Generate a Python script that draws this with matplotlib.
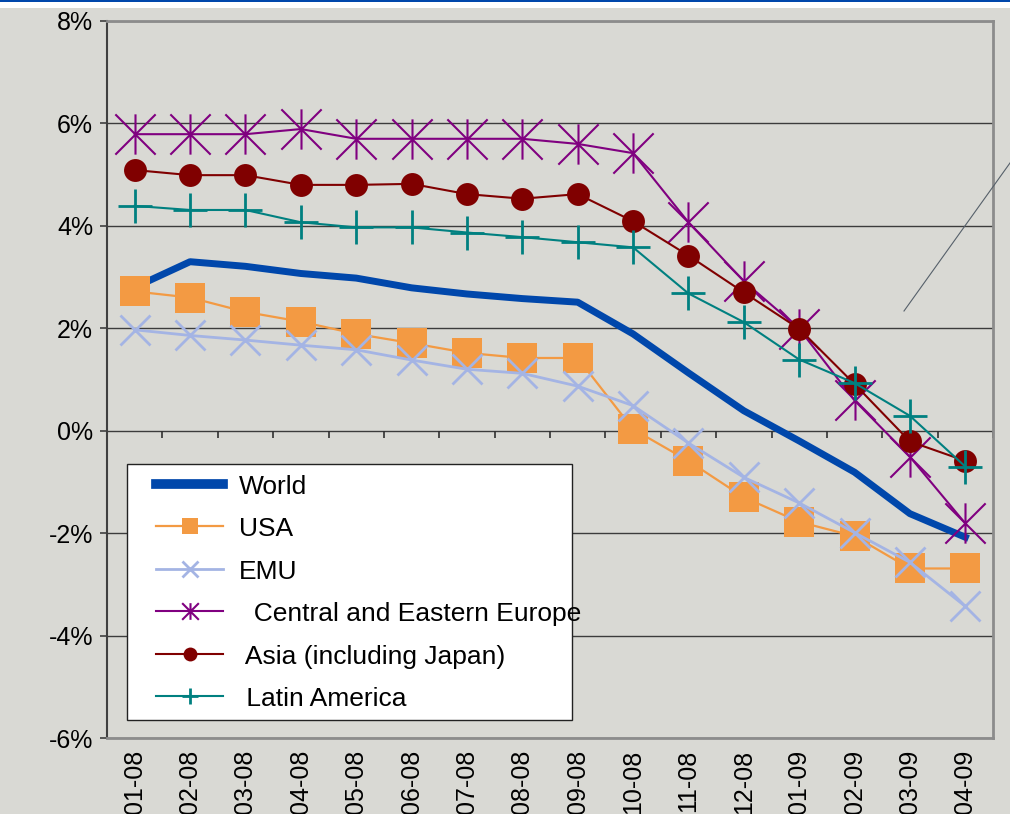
import numpy as np
import matplotlib
matplotlib.use("Agg")
import matplotlib.pyplot as plt
from matplotlib.path import Path
from matplotlib.patches import Rectangle
from matplotlib.lines import Line2D

months = ["01-08", "02-08", "03-08", "04-08", "05-08", "06-08", "07-08", "08-08",
          "09-08", "10-08", "11-08", "12-08", "01-09", "02-09", "03-09", "04-09"]

world = [2.80, 3.30, 3.21, 3.07, 2.98, 2.79, 2.67, 2.58, 2.51, 1.89, 1.13, 0.39,
         -0.20, -0.81, -1.62, -2.08]
usa = [2.72, 2.60, 2.32, 2.13, 1.89, 1.71, 1.52, 1.42, 1.42, 0.03, -0.59, -1.30,
       -1.78, -2.06, -2.69, -2.69]
emu = [1.97, 1.86, 1.77, 1.67, 1.58, 1.38, 1.20, 1.12, 0.87, 0.49, -0.24, -0.91,
       -1.41, -1.99, -2.57, -3.43]
cee = [5.79, 5.79, 5.79, 5.89, 5.70, 5.70, 5.70, 5.70, 5.60, 5.42, 4.07, 2.92,
       1.99, 0.59, -0.51, -1.81]
asia = [5.09, 4.99, 4.99, 4.80, 4.80, 4.82, 4.62, 4.53, 4.62, 4.09, 3.42, 2.70,
        1.99, 0.91, -0.21, -0.59]
latam = [4.39, 4.31, 4.31, 4.07, 3.97, 3.97, 3.87, 3.78, 3.68, 3.58, 2.68, 2.12,
         1.39, 0.93, 0.29, -0.70]

labels = ["World", "USA", "EMU", "  Central and Eastern Europe",
          " Asia (including Japan)", " Latin America"]
y_ticks = [-6, -4, -2, 0, 2, 4, 6, 8]

W, H = 1010, 814
BG = "#D9D9D4"
plt.rcParams["font.family"] = ["Liberation Sans", "DejaVu Sans"]


def fx(px):
    return px / W


def fy(py):
    return 1 - py / H


# Excel-style star marker: an X crossed by a vertical stroke
STAR = Path([(0, -1), (0, 1), (-1, -1), (1, 1), (-1, 1), (1, -1)],
            [Path.MOVETO, Path.LINETO] * 3)

styles = [
    dict(color="#0047AB", lw=5, marker=None),
    dict(color="#F39A43", lw=1.6, marker="s", ms=21, mew=0),
    dict(color="#A4B4E4", lw=2, marker="x", ms=22, mew=2),
    dict(color="#800080", lw=1.5, marker=STAR, ms=29, mew=1.5, mfc="none"),
    dict(color="#800000", lw=1.5, marker="o", ms=16.5, mew=0),
    dict(color="#008080", lw=1.5, marker="+", ms=25, mew=2),
]
legend_ms = [None, 11, 12, 12, 10, 12]
series = [world, usa, emu, cee, asia, latam]

fig = plt.figure(figsize=(W / 100, H / 100), dpi=100, facecolor=BG)
ax = fig.add_axes([fx(107), fy(738), (993 - 107) / W, (738 - 21) / H])
ax.set_facecolor(BG)

x = np.arange(len(months))
for vals, st in zip(series, styles):
    ax.plot(x, vals, clip_on=False, **st)

ax.set_xlim(-0.5, len(months) - 0.5)
ax.set_ylim(-6, 8)
ax.set_yticks(y_ticks)
ax.set_yticklabels([f"{v}%" for v in y_ticks])
ax.set_xticks(x)
ax.set_xticklabels(months)
ax.set_axisbelow(True)
ax.yaxis.grid(True, color="#3C3C3C", lw=1)

# category axis crosses at 0%: boundary tick marks hang below that line
ax.vlines(np.arange(-0.5, len(months)), 0, -0.14, color="#303030", lw=1.2)

ax.tick_params(axis="y", length=5, width=1.2, color="#404040", pad=5, labelsize=18)
ax.tick_params(axis="x", length=0, pad=8.6, labelsize=18, labelrotation=90)

for side in ["top", "right", "bottom"]:
    ax.spines[side].set_color("#8C8C8C")
    ax.spines[side].set_linewidth(2)
ax.spines["left"].set_color("#404040")
ax.spines["left"].set_linewidth(1.5)

# page header band
fig.add_artist(Rectangle((0, fy(8)), 1, 8 / H, transform=fig.transFigure,
                         facecolor="white", edgecolor="none"))
fig.add_artist(Rectangle((0, fy(2)), 1, 2 / H, transform=fig.transFigure,
                         facecolor="#0047AB", edgecolor="none"))

# callout leader line
fig.add_artist(Line2D([fx(904), fx(1015)], [fy(311), fy(156)],
                      transform=fig.transFigure, color="#56606A", lw=0.8))

# legend box
fig.add_artist(Rectangle((fx(127), fy(720)), (572 - 127) / W, (720 - 464) / H,
                         transform=fig.transFigure, facecolor="white",
                         edgecolor="#222222", lw=1, zorder=5))
for i, (lab, st) in enumerate(zip(labels, styles)):
    yy = 484 + 42.4 * i
    fig.add_artist(Line2D([fx(156), fx(223)], [fy(yy)] * 2, transform=fig.transFigure,
                          color=st["color"], lw=st["lw"] + (2 if i == 0 else 0), zorder=6))
    if st["marker"] is not None:
        mk = dict(st)
        mk.pop("lw")
        mk["ms"] = legend_ms[i]
        fig.add_artist(Line2D([fx(190)], [fy(yy)], transform=fig.transFigure,
                              ls="none", zorder=6, **mk))
    fig.text(fx(239), fy(yy + 10), lab, fontsize=19, va="baseline", zorder=7)

fig.savefig("out.png", dpi=100, facecolor=BG)
